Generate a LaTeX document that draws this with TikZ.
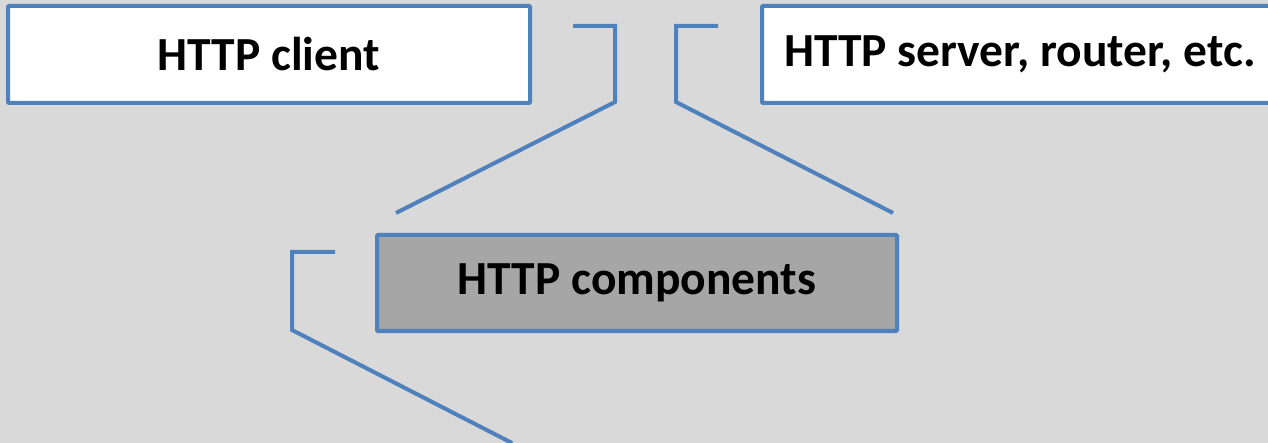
\documentclass[tikz,border=0pt]{standalone}
\usepackage{fontspec}
\setmainfont{Carlito}
\begin{document}
\begin{tikzpicture}[x=1pt,y=-1pt,
  every node/.style={font=\fontsize{47.5}{56}\selectfont\bfseries},
  panel/.style={draw=linkblue, line width=4pt, rounded corners=1pt, fill=white,
                inner sep=0pt, minimum height=97pt},
  callout/.style={draw=linkblue, line width=4pt, line join=miter}]
\definecolor{linkblue}{HTML}{4F81BD}
\definecolor{canvas}{HTML}{D9D9D9}
\definecolor{corebox}{HTML}{A6A6A6}
% canvas
\fill[canvas] (0,0) rectangle (1268,443);
\useasboundingbox (0,0) rectangle (1268,443);
\clip (0,0) rectangle (1268,443);
% boxes
\node[panel, minimum width=522pt] (client) at (269,54.5) {HTTP client};
\node[panel, minimum width=516pt] (server) at (1020,54.5) {HTTP server, router, etc.};
\node[panel, fill=corebox, minimum width=520pt, minimum height=96pt] (core) at (637,283) {HTTP components};
% callout brackets
\coordinate (a1) at (573,26);  \coordinate (a2) at (615,26);
\coordinate (a3) at (615,102); \coordinate (a4) at (396,213);
\coordinate (b1) at (718,26);  \coordinate (b2) at (676,26);
\coordinate (b3) at (676,102); \coordinate (b4) at (893,213);
\coordinate (c1) at (335,252); \coordinate (c2) at (292,252);
\coordinate (c3) at (292,330); \coordinate (c4) at (512,443);
\draw[callout] (a1) -- (a2) -- (a3) -- (a4);
\draw[callout] (b1) -- (b2) -- (b3) -- (b4);
\draw[callout] (c1) -- (c2) -- (c3) -- (c4);
\end{tikzpicture}
\end{document}
